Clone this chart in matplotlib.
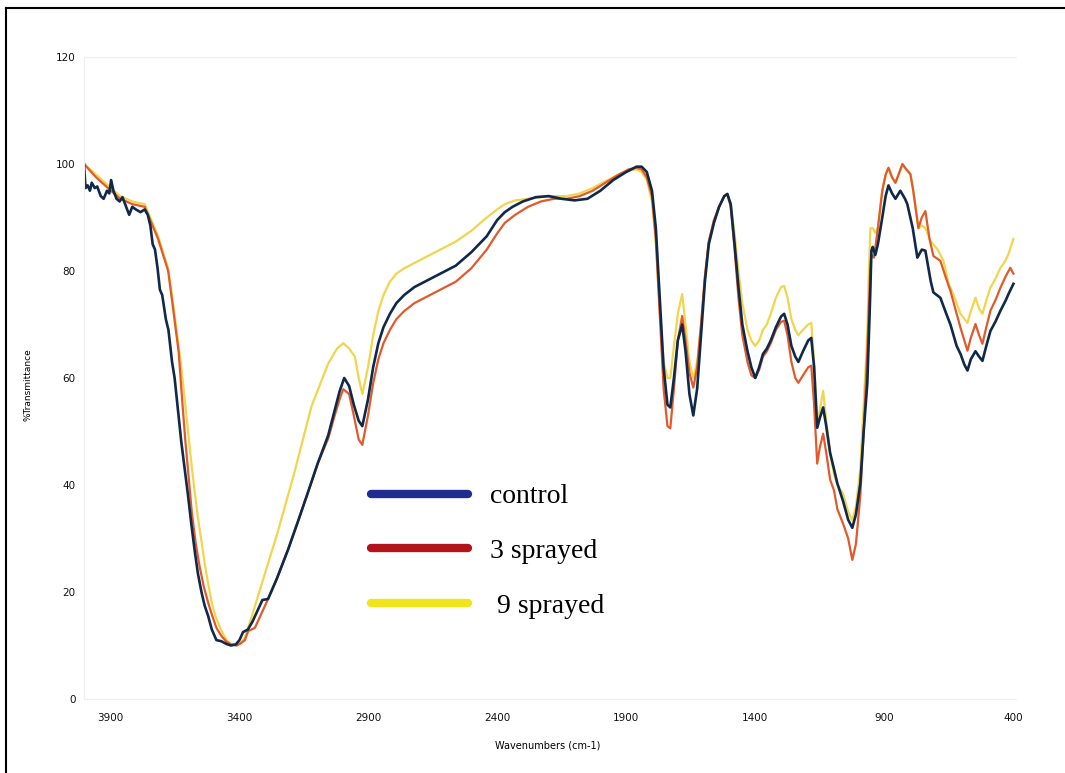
import matplotlib.pyplot as plt
from matplotlib.lines import Line2D

# wavenumber (cm-1) / %T pairs
control_wn = [4000, 3994, 3986, 3977, 3970, 3958, 3949, 3935, 3924, 3911, 3902, 3895, 3886, 3874, 3862, 3851,
              3837, 3825, 3813, 3799, 3781, 3765, 3753, 3743, 3734, 3725, 3715, 3706, 3697, 3683, 3673, 3659,
              3649, 3636, 3623, 3610, 3597, 3585, 3572, 3559, 3545, 3533, 3519, 3505, 3487, 3468, 3449, 3431,
              3412, 3398, 3384, 3365, 3347, 3328, 3309, 3287, 3253, 3209, 3169, 3132, 3095, 3054, 3029, 3010,
              2992, 2973, 2955, 2936, 2922, 2900, 2880, 2860, 2840, 2815, 2790, 2760, 2720, 2680, 2620, 2560,
              2500, 2440, 2400, 2370, 2340, 2300, 2250, 2200, 2150, 2100, 2050, 2000, 1950, 1900, 1860, 1840,
              1820, 1800, 1785, 1770, 1755, 1740, 1729, 1715, 1700, 1683, 1670, 1655, 1640, 1625, 1610, 1595,
              1580, 1560, 1540, 1520, 1508, 1495, 1480, 1465, 1450, 1430, 1415, 1400, 1385, 1370, 1355, 1340,
              1320, 1300, 1288, 1275, 1260, 1245, 1233, 1215, 1195, 1183, 1172, 1160, 1150, 1137, 1125, 1110,
              1095, 1082, 1060, 1040, 1024, 1010, 993, 980, 966, 955, 950, 945, 935, 925, 908, 895, 884, 870,
              857, 838, 820, 811, 790, 772, 755, 741, 720, 710, 683, 660, 644, 620, 605, 590, 578, 565, 547,
              533, 520, 505, 489, 470, 450, 430, 419, 400]
control_t = [100, 95.5, 96, 95, 96.5, 95.5, 95.8, 94, 93.5, 95, 94.5, 97, 95, 93.5, 93, 93.8,
             92, 90.5, 92, 91.5, 91, 91.5, 90.5, 88.5, 85, 84, 80.5, 76.5, 75.5, 71, 69, 63,
             60, 54, 48, 43, 38, 33, 28, 23.5, 20, 17.5, 15.5, 13, 11, 10.8, 10.3, 10,
             10.2, 11, 12.5, 13, 14.5, 16.5, 18.5, 18.7, 22.5, 28, 33.5, 38.7, 44, 49.3, 54, 57.5,
             60, 58.5, 55, 52, 51, 56, 62, 66.5, 69.5, 72, 74, 75.5, 77, 78, 79.5, 81,
             83.5, 86.5, 89.5, 91, 92, 93, 93.8, 94, 93.5, 93.2, 93.5, 95, 97, 98.5, 99.5, 99.5,
             98.5, 95, 88, 75, 62, 55, 54.5, 60, 67, 70, 65, 57, 53, 58, 68, 78,
             85, 89, 92, 94, 94.4, 92.5, 85, 77, 70, 65, 62, 60, 62, 64.5, 65.5, 67,
             69.5, 71.5, 72, 70, 66, 64, 63, 65, 67, 67.5, 62, 50.7, 52.5, 54.5, 51, 46,
             43, 40.3, 37, 33.5, 32, 34.5, 40.3, 50, 59, 75, 83.8, 84.5, 83, 85, 90, 94, 96, 94.5,
             93.5, 95, 93.5, 92.5, 88, 82.5, 84, 83.8, 78, 76, 75, 72, 70, 66, 64.5, 62.5, 61.4, 63.5, 65,
             64, 63.2, 66, 68.8, 70.5, 72.6, 74.5, 75.7, 77.6]

sprayed3_wn = [4000, 3953, 3907, 3860, 3813, 3765, 3739, 3713, 3687, 3674, 3655, 3633, 3620, 3607, 3594,
               3582, 3567, 3552, 3536, 3519, 3503, 3487, 3468, 3448, 3431, 3409, 3393, 3377, 3364, 3338,
               3287, 3253, 3209, 3169, 3132, 3095, 3054, 3029, 3010, 2996, 2973, 2955, 2936, 2922, 2900,
               2880, 2860, 2840, 2815, 2790, 2760, 2720, 2680, 2620, 2560, 2500, 2440, 2400, 2370, 2330,
               2280, 2230, 2180, 2130, 2080, 2030, 1980, 1930, 1890, 1860, 1840, 1820, 1800, 1785, 1770,
               1755, 1740, 1729, 1715, 1700, 1683, 1670, 1655, 1640, 1625, 1610, 1595, 1580, 1560, 1540,
               1520, 1508, 1495, 1480, 1465, 1450, 1430, 1415, 1400, 1385, 1370, 1355, 1340, 1320, 1300,
               1288, 1275, 1260, 1245, 1233, 1215, 1195, 1183, 1172, 1160, 1150, 1137, 1125, 1110, 1095,
               1082, 1060, 1040, 1024, 1010, 993, 980, 966, 955, 950, 940, 925, 908, 895, 884, 870, 857,
               845, 830, 815, 799, 788, 768, 755, 741, 725, 710, 683, 660, 644, 620, 605, 590, 578, 565,
               547, 533, 520, 505, 489, 470, 450, 430, 412, 400]
sprayed3_t = [100, 97.5, 95.5, 93.5, 92.5, 92, 89, 86, 82, 80, 73, 64.7, 56, 48, 41,
              34.7, 29, 24.7, 21, 18, 15.5, 13.3, 11.8, 10.7, 10.2, 10, 10.4, 11, 12.7, 13.3,
              18.7, 22.5, 28, 33.5, 38.7, 44, 48.7, 53, 56, 57.9, 57, 53, 48.5, 47.5, 53,
              59, 63.5, 66.5, 69, 71, 72.5, 74, 75, 76.5, 78, 80.5, 84, 87, 89, 90.5,
              92, 93, 93.5, 93.5, 94, 95, 96.5, 98, 99, 99.3, 99, 97.5, 94, 86, 72,
              58, 51, 50.6, 58, 67, 71.6, 67, 61, 58.2, 62, 70, 79, 85.5, 89.5, 92,
              94, 94.4, 92, 84, 75, 68, 63, 60.5, 60, 61.5, 64, 65, 66.5, 69, 70.5,
              70.7, 68, 63, 60, 59.1, 60.5, 62, 62.3, 55, 44, 47, 49.6, 46, 41, 39,
              35.5, 32.8, 30, 26, 29, 38, 50, 65, 80, 83, 82.5, 88, 95, 98, 99.3, 97.5, 96.5,
              98, 100, 99, 98.1, 95, 88, 90, 91.2, 86, 82.8, 81.9, 78.5, 76.3, 72, 69.4, 67, 65.1, 67.5,
              70.1, 68, 66.4, 69.5, 72.6, 74.5, 76.9, 79, 80.6, 79.5]

sprayed9_wn = [4000, 3953, 3907, 3860, 3813, 3765, 3739, 3713, 3687, 3674, 3655, 3636, 3623, 3610, 3597,
               3585, 3572, 3559, 3545, 3533, 3519, 3505, 3491, 3468, 3448, 3431, 3409, 3393, 3377, 3364,
               3313, 3249, 3183, 3119, 3054, 3020, 2996, 2973, 2951, 2936, 2922, 2900, 2880, 2860, 2840,
               2815, 2790, 2760, 2720, 2680, 2620, 2560, 2500, 2440, 2400, 2370, 2330, 2280, 2230, 2180,
               2130, 2080, 2030, 1980, 1930, 1890, 1860, 1840, 1820, 1800, 1785, 1770, 1755, 1740, 1729,
               1715, 1700, 1683, 1670, 1655, 1640, 1625, 1610, 1595, 1580, 1560, 1540, 1520, 1508, 1495,
               1480, 1465, 1450, 1430, 1415, 1400, 1385, 1370, 1355, 1340, 1320, 1300, 1288, 1275, 1260,
               1245, 1233, 1215, 1195, 1183, 1172, 1160, 1150, 1137, 1125, 1110, 1095, 1082, 1060, 1040,
               1024, 1010, 993, 980, 966, 960, 954, 945, 935, 925, 908, 895, 884, 870, 857, 845, 830, 815,
               799, 788, 768, 755, 741, 720, 695, 671, 650, 633, 605, 578, 565, 547, 533, 520, 505, 489,
               470, 450, 430, 419, 400]
sprayed9_t = [100, 98, 96, 94, 93, 92.5, 89.5, 86.5, 82.5, 80.5, 74, 67, 62, 56, 50,
              44.5, 39, 34, 29.5, 25.5, 21.5, 18, 15.5, 12.8, 11, 10.3, 10, 10.5, 11.5, 13.3,
              21.3, 31.3, 42.7, 54.7, 62.7, 65.5, 66.5, 65.5, 64, 60, 57, 62, 68, 72.5, 75.5,
              78, 79.5, 80.5, 81.5, 82.5, 84, 85.5, 87.5, 90, 91.5, 92.5, 93.2, 93.5, 93.8, 94,
              94, 94.5, 95.5, 96.8, 98, 98.8, 99, 98.5, 97, 93, 85, 73, 63, 60, 60,
              66, 72, 75.7, 70, 63, 60, 63, 70, 79, 85.5, 89.5, 92, 94, 94.4, 92.5,
              87, 80, 74, 69, 67, 66, 67, 69, 70, 72, 75, 77, 77.2, 75, 71,
              69, 68, 69, 70, 70.3, 63, 52, 54, 57.6, 52, 46, 42, 40, 38.4, 35,
              33.4, 36, 43, 55, 68, 80, 88, 88, 87.1, 88, 95, 98, 99.3, 97.5, 96.5, 98, 100, 99,
              98.1, 95, 88, 88.5, 88, 85.5, 84.1, 81.9, 77.5, 75.7, 72, 70.3, 72.5, 75, 73, 72, 74.5, 76.9,
              78.5, 80.6, 82, 83.2, 86]

xticks = [3900, 3400, 2900, 2400, 1900, 1400, 900, 400]
yticks = [0, 20, 40, 60, 80, 100, 120]
labels = ['control', '3 sprayed', ' 9 sprayed']

W, H = 1065, 773
fig = plt.figure(figsize=(W / 100, H / 100), dpi=100)
ax = fig.add_axes([84 / W, 1 - 699 / H, (1016 - 84) / W, (699 - 57) / H])

ax.plot(sprayed9_wn, sprayed9_t, color='#f1d54c', lw=1.6)
ax.plot(sprayed3_wn, sprayed3_t, color='#e05a2b', lw=1.6)
ax.plot(control_wn, control_t, color='#10294a', lw=1.9)

ax.set_xlim(4000, 390)
ax.set_ylim(0, 120)
ax.set_xticks(xticks)
ax.set_yticks(yticks)
ax.tick_params(length=0, labelsize=7.5, labelcolor='#111111')
ax.tick_params(axis='x', pad=10)
ax.tick_params(axis='y', pad=6)
for s in ['top', 'bottom', 'left']:
    ax.spines[s].set_color('#eeeeee')
ax.spines['right'].set_visible(False)

fig.text(28 / W, 1 - 385 / H, '%Transmittance', rotation=90, ha='center', va='center', fontsize=6.5)
fig.text(548 / W, 1 - 745 / H, 'Wavenumbers (cm-1)', ha='center', va='center', fontsize=7)

handles = [Line2D([], [], color=c, lw=6, solid_capstyle='round')
           for c in ['#1f2d8f', '#b3141c', '#f0e41a']]
ax.legend(handles, labels, loc='upper left', bbox_to_anchor=(357 / W, 1 - 470 / H),
          bbox_transform=fig.transFigure, frameon=False, borderpad=0,
          handlelength=3.5, handletextpad=0.8, labelspacing=1.05,
          prop={'family': 'Liberation Serif', 'size': 20})

# border of the screenshot (top and left only)
fig.add_artist(Line2D([6 / W, 1], [1 - 7.5 / H, 1 - 7.5 / H], transform=fig.transFigure, color='k', lw=1.5))
fig.add_artist(Line2D([6 / W, 6 / W], [0, 1 - 7.5 / H], transform=fig.transFigure, color='k', lw=1.5))

fig.savefig('out.png', dpi=100)
